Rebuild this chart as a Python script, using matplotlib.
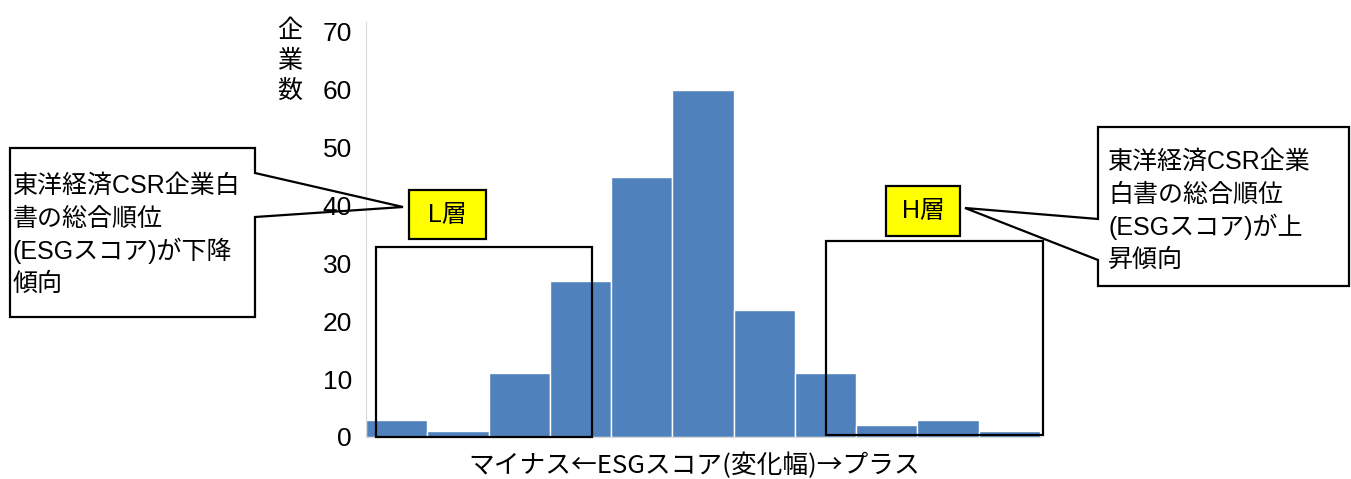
import matplotlib.pyplot as plt
from matplotlib.patches import Polygon, Rectangle

plt.rcParams['font.family'] = ['Liberation Sans', 'Noto Sans CJK JP', 'DejaVu Sans']

# histogram of companies by ESG score change (11 bins, minus -> plus)
bins = list(range(11))
counts = [3, 1, 11, 27, 45, 60, 22, 11, 2, 3, 1]
yticks = [0, 10, 20, 30, 40, 50, 60, 70]

W, H = 1351, 479
fig = plt.figure(figsize=(W / 100, H / 100), dpi=100)


def fx(px):
    return px / W


def fy(py):
    return 1 - py / H


# axes placed to match the reference (pixels: x 366..1040, y 22..437)
ax = fig.add_axes([fx(366), fy(437), fx(1040) - fx(366), fy(22) - fy(437)])
ax.bar(bins, counts, width=1.0, align='edge', color='#4F81BD',
       edgecolor='white', linewidth=1)
ax.set_xlim(0, len(bins))
ax.set_ylim(0, 71.7)
ax.set_yticks(yticks)
ax.set_yticklabels([str(t) for t in yticks], fontsize=19)
ax.set_xticks([])
ax.tick_params(axis='y', length=0, pad=10)
for s in ['top', 'right']:
    ax.spines[s].set_visible(False)
ax.spines['left'].set_color('#d9d9d9')
ax.spines['bottom'].set_color('#d9d9d9')

# y label: stacked characters
for i, ch in enumerate('企業数'):
    fig.text(fx(290), fy(31 + i * 30), ch, ha='center', va='center', fontsize=18)

# x label
fig.text(fx(694), fy(466), 'マイナス←ESGスコア(変化幅)→プラス',
         ha='center', va='center', fontsize=18.5, family=['Noto Sans CJK JP'])


def px_poly(pts, **kw):
    xy = [(fx(x), fy(y)) for x, y in pts]
    fig.add_artist(Polygon(xy, closed=True, transform=fig.transFigure, **kw))


def px_rect(x0, y0, x1, y1, **kw):
    fig.add_artist(Rectangle((fx(x0), fy(y1)), fx(x1) - fx(x0), fy(y0) - fy(y1),
                             transform=fig.transFigure, **kw))


# outline boxes around L and H groups
px_rect(376, 247, 592, 437, fill=False, edgecolor='black', linewidth=1.6)
px_rect(826, 241, 1043, 435, fill=False, edgecolor='black', linewidth=1.6)

# left callout
px_poly([(10, 148), (255, 148), (255, 173), (403, 207), (255, 217),
         (255, 317), (10, 317)],
        fill=False, edgecolor='black', linewidth=1.6)
left_lines = ['東洋経済CSR企業白', '書の総合順位', '(ESGスコア)が下降', '傾向']
for i, t in enumerate(left_lines):
    fig.text(fx(13), fy(186 + i * 32.5), t, ha='left', va='center', fontsize=18)

# right callout
px_poly([(1098, 127), (1349, 127), (1349, 286), (1098, 286), (1098, 260),
         (965, 208), (1098, 219)],
        fill=False, edgecolor='black', linewidth=1.6)
right_lines = ['東洋経済CSR企業', '白書の総合順位', '(ESGスコア)が上', '昇傾向']
for i, t in enumerate(right_lines):
    fig.text(fx(1108), fy(162 + i * 32.5), t, ha='left', va='center', fontsize=18)

# yellow labels
px_rect(409, 190, 486, 239, facecolor='#FFFF00', edgecolor='black', linewidth=1.6)
fig.text(fx(447), fy(215), 'L層', ha='center', va='center', fontsize=18)
px_rect(886, 186, 960, 236, facecolor='#FFFF00', edgecolor='black', linewidth=1.6)
fig.text(fx(923), fy(211), 'H層', ha='center', va='center', fontsize=18)

fig.savefig('out.png', dpi=100)
